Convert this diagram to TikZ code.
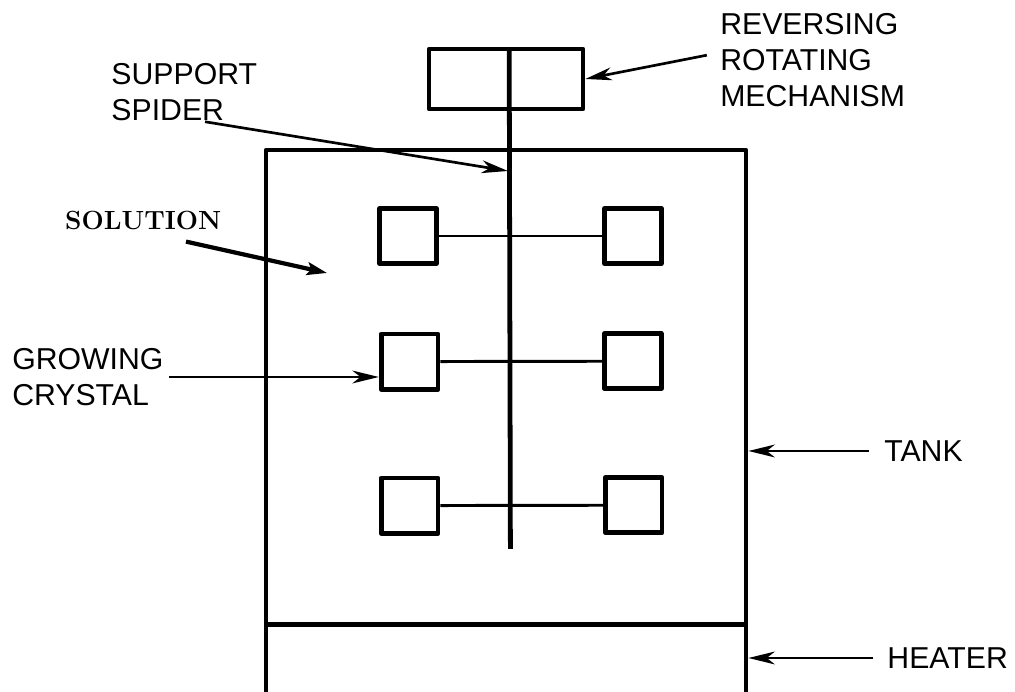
\documentclass[tikz,border=0pt]{standalone}
\usepackage{fontspec}
\setsansfont{Liberation Sans}
\usetikzlibrary{arrows.meta}

\begin{document}
\begin{tikzpicture}[
    wall/.style={draw, line width=3.4pt, rectangle, inner sep=0pt, line join=round},
    crystal/.style={wall, minimum width=1.42cm, minimum height=1.38cm},
    rod/.style={line width=2.1pt},
    shaft/.style={line width=3.4pt},
    label/.style={inner sep=0pt, anchor=west, align=left, font=\sffamily\fontsize{21.5}{25.6}\selectfont},
    arr/.style={-{Stealth[length=0.66cm, width=0.32cm, inset=0.2cm]}, line width=1.9pt},
    heavyarr/.style={-{Stealth[length=0.5cm, width=0.32cm, inset=0.1cm]}, line width=3pt},
  ]
    \useasboundingbox (0,0) rectangle (25.375,17.3);

    \node[wall, minimum width=3.85cm, minimum height=1.5cm] (mech) at (12.65,15.325) {};
    \node[wall, minimum width=12cm, minimum height=11.85cm] (tank) at (12.65,7.625) {};
    \node[wall, minimum width=12cm, minimum height=1.75cm] (heater) at (12.65,0.8) {};

    \node[crystal] (cryA1) at (10.2,11.4) {};
    \node[crystal] (cryA2) at (15.82,11.4) {};
    \node[crystal] (cryB1) at (10.24,8.26) {};
    \node[crystal] (cryB2) at (15.82,8.27) {};
    \node[crystal] (cryC1) at (10.24,4.66) {};
    \node[crystal] (cryC2) at (15.84,4.67) {};

    \node[label] (mechlabel) at (18.0,15.79) {REVERSING\\ROTATING\\MECHANISM};
    \node[label] (spiderlabel) at (2.78,15.0) {SUPPORT\\SPIDER};
    \node[font=\bfseries\fontsize{18.7}{24}\selectfont, inner sep=0pt] (sollabel) at (3.58,11.8) {SOLUTION};
    \node[label] (growlabel) at (0.3,7.875) {GROWING\\CRYSTAL};
    \node[label] (tanklabel) at (22.1,6.025) {TANK};
    \node[label] (heaterlabel) at (22.18,0.85) {HEATER};

    \coordinate (shafttop) at (12.73,16.075);
    \coordinate (shaftend) at (12.76,3.58);
    \coordinate (spidertip) at (12.7,13.025);
    \coordinate (soltip) at (8.175,10.475);

    \draw[shaft] (shafttop) -- (shaftend);
    \draw[rod] (cryA1) -- (cryA2);
    \draw[rod] (cryB1) -- (cryB2);
    \draw[rod] (cryC1) -- (cryC2);

    \draw[arr] (mechlabel.west) ++(-0.33,0.13) -- (mech.east);
    \draw[arr] (spiderlabel.south) ++(0.52,-0.02) -- (spidertip);
    \draw[heavyarr] (sollabel.south) ++(1.07,-0.3) -- (soltip);
    \draw[arr] (growlabel.east) ++(0.13,0) -- (growlabel.east -| cryB1.west);
    \draw[arr] (tanklabel.west) ++(-0.38,0) -- (tanklabel.west -| tank.east);
    \draw[arr] (heaterlabel.west) ++(-0.35,0) -- (heaterlabel.west -| heater.east);
  \end{tikzpicture}
\end{document}
